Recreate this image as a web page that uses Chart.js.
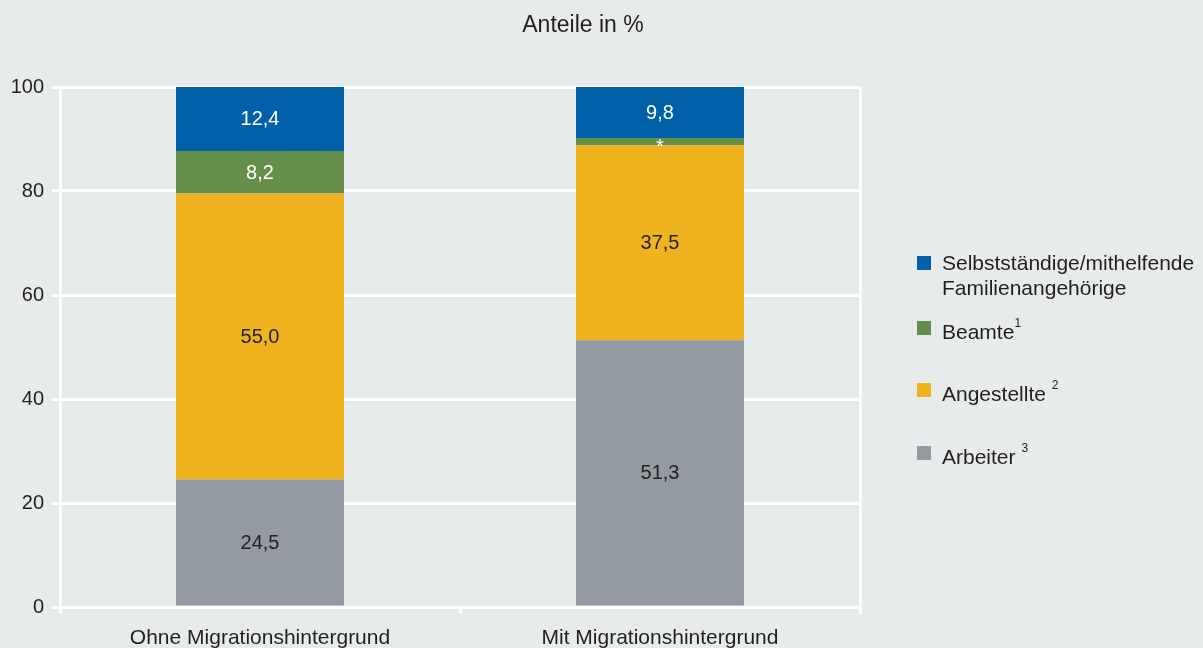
<!DOCTYPE html>
<html lang="de">
<head>
<meta charset="utf-8">
<script src="https://cdn.jsdelivr.net/npm/chart.js@4/dist/chart.umd.min.js"></script>
<style>
    body { margin: 0; background: #e8ebec; font-family: "Liberation Sans", Arial, sans-serif; }
    #wrap { position: relative; width: 1203px; height: 648px; overflow: hidden; }
    #legend { position: absolute; left: 917px; top: 0; color: #231f20; font-size: 21px; }
    .item { position: absolute; left: 0; white-space: nowrap; }
    .box { position: absolute; left: 0; width: 14px; height: 14px; }
    .txt { position: absolute; left: 25px; line-height: 25px; }
    sup { font-size: 12px; position: relative; top: -4px; }
</style>
</head>
<body>
<div id="wrap">
    <canvas id="mainChart" width="1203" height="648"></canvas>
    <div id="legend"></div>
</div>
<script>
// Chart data
const categories = ['Ohne Migrationshintergrund', 'Mit Migrationshintergrund'];
const seriesNames = ['Arbeiter', 'Angestellte', 'Beamte', 'Selbstständige/mithelfende Familienangehörige'];
const arbeiter = [24.5, 51.3];
const angestellte = [55.0, 37.5];
const beamte = [8.2, 1.4];
const selbststaendige = [12.4, 9.8];
// values shown as "*" instead of a number
const beamteLabels = ['8,2', '*'];
const yTicks = [0, 20, 40, 60, 80, 100];

const colors = ['#939aa1', '#efb31f', '#668e4b', '#0061a8'];
const labelColors = ['#231f20', '#231f20', '#ffffff', '#ffffff'];
const textColor = '#231f20';
const font = "'Liberation Sans', Arial, sans-serif";

function fmt(v) {
    return v.toFixed(1).replace('.', ',');
}

// Draws the numbers inside each segment and the heading
const segmentLabels = {
    id: 'segmentLabels',
    afterDatasetsDraw(chart) {
        const ctx = chart.ctx;
        ctx.save();
        ctx.font = '20px ' + font;
        ctx.textAlign = 'center';
        ctx.textBaseline = 'middle';
        chart.data.datasets.forEach((ds, i) => {
            chart.getDatasetMeta(i).data.forEach((bar, j) => {
                const p = bar.getProps(['x', 'y', 'base'], true);
                const text = ds.valueLabels ? ds.valueLabels[j] : fmt(ds.data[j]);
                let y = (p.y + p.base) / 2 + 1;
                if (text === '*') y += 5;
                ctx.fillStyle = labelColors[i];
                ctx.fillText(text, p.x, y);
            });
        });
        ctx.font = '23px ' + font;
        ctx.fillStyle = textColor;
        ctx.fillText('Anteile in %', 583, 26);
        ctx.restore();
    }
};

function initializeChart() {
    const ctx = document.getElementById('mainChart').getContext('2d');
    const seriesData = [arbeiter, angestellte, beamte, selbststaendige];

    new Chart(ctx, {
        type: 'bar',
        data: {
            labels: categories,
            datasets: seriesData.map((d, i) => ({
                label: seriesNames[i],
                data: d,
                backgroundColor: colors[i],
                borderWidth: 0,
                categoryPercentage: 1,
                barPercentage: 0.42,
                valueLabels: i === 2 ? beamteLabels : null
            }))
        },
        options: {
            responsive: false,
            animation: false,
            layout: { padding: { left: 0, right: 343, top: 87, bottom: 0 } },
            plugins: {
                legend: { display: false },
                tooltip: { enabled: false }
            },
            scales: {
                x: {
                    stacked: true,
                    offset: true,
                    afterFit: s => { s.height = 41; },
                    border: { display: false },
                    grid: {
                        offset: true,
                        lineWidth: 3,
                        tickLength: 7,
                        color: c => c.index === 1 ? 'rgba(0,0,0,0)' : '#ffffff',
                        tickColor: '#ffffff'
                    },
                    ticks: { color: textColor, font: { size: 21, family: font }, padding: 12 }
                },
                y: {
                    stacked: true,
                    min: 0,
                    max: 100,
                    afterFit: s => { s.width = 60; },
                    afterBuildTicks: s => { s.ticks = yTicks.map(v => ({ value: v })); },
                    border: { color: '#ffffff', width: 3 },
                    grid: { color: '#ffffff', lineWidth: 3, tickLength: 8 },
                    ticks: { color: textColor, font: { size: 20, family: font }, padding: 8 }
                }
            }
        },
        plugins: [segmentLabels]
    });
}

// HTML legend with footnote marks
function buildLegend() {
    const items = [
        { c: colors[3], top: 256, html: 'Selbstständige/mithelfende<br>Familienangehörige' },
        { c: colors[2], top: 321, html: 'Beamte<sup>1</sup>' },
        { c: colors[1], top: 383, html: 'Angestellte <sup>2</sup>' },
        { c: colors[0], top: 446, html: 'Arbeiter <sup>3</sup>' }
    ];
    const el = document.getElementById('legend');
    items.forEach(it => {
        const d = document.createElement('div');
        d.className = 'item';
        d.style.top = it.top + 'px';
        d.innerHTML = '<div class="box" style="background:' + it.c + '"></div>' +
            '<div class="txt" style="top:-6px">' + it.html + '</div>';
        el.appendChild(d);
    });
}

document.addEventListener('DOMContentLoaded', () => {
    initializeChart();
    buildLegend();
});
</script>
</body>
</html>
